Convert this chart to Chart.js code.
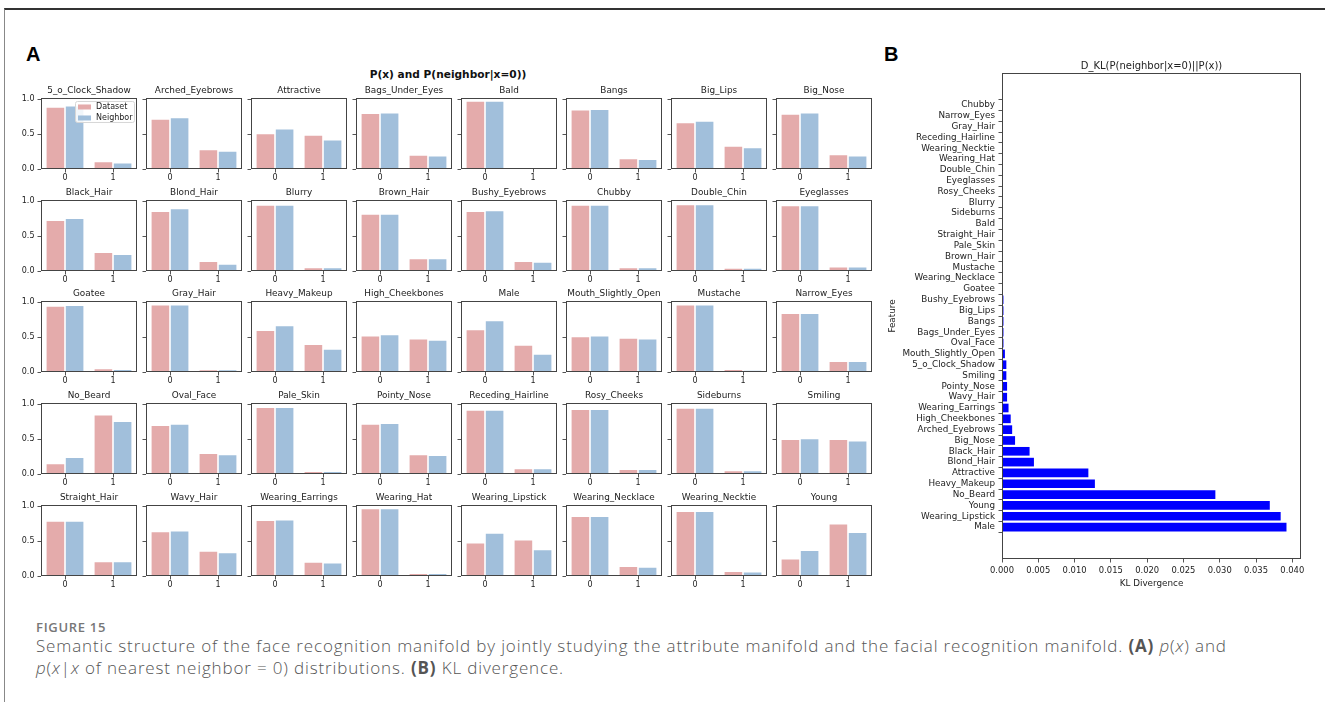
<!DOCTYPE html>
<html>
<head>
<meta charset="utf-8">
<script src="https://cdn.jsdelivr.net/npm/chart.js@4.4.1/dist/chart.umd.min.js"></script>
<style>
  body { margin: 0; width: 1325px; height: 702px; background: #fff; position: relative; overflow: hidden; font-family: "DejaVu Sans", sans-serif; }
  #frame { position: absolute; left: 4px; top: 8px; width: 1330px; height: 700px; border-top: 2px solid #333; border-left: 1.5px solid #888; }
  .cell { position: absolute; }
  .panel { position: absolute; font-family: "Liberation Sans", Arial, sans-serif; font-weight: bold; font-size: 20px; line-height: 20px; color: #000; }
  #titleA { position: absolute; left: 0; width: 896px; top: 68px; text-align: center; font-weight: bold; font-size: 10.6px; color: #111; }
  #figlabel { position: absolute; left: 36px; top: 618px; font-family: "Open Sans", sans-serif; font-weight: 600; font-size: 13px; letter-spacing: 0.7px; color: #777; }
  #caption { position: absolute; left: 36px; top: 635px; font-family: "Open Sans", sans-serif; font-weight: 300; font-size: 17px; letter-spacing: 0.85px; line-height: 22px; color: #555; white-space: nowrap; }
  #caption b { font-weight: 700; }
</style>
</head>
<body>
<div id="frame"></div>
<div class="panel" style="left:26px;top:44px">A</div>
<div class="panel" style="left:884px;top:44px">B</div>
<div id="titleA">P(x) and P(neighbor|x=0))</div>
<div id="figlabel">FIGURE 15</div>
<div id="caption">Semantic structure of the face recognition manifold by jointly studying the attribute manifold and the facial recognition manifold. <b>(A)</b> <i>p</i>(<i>x</i>) and<br><i>p</i>(<i>x</i>|<i>x</i> of nearest neighbor = 0) distributions. <b>(B)</b> KL divergence.</div>
<script>
// panel A: one small chart per attribute, value for x=0 and x=1
var attrNames = ['5_o_Clock_Shadow', 'Arched_Eyebrows', 'Attractive', 'Bags_Under_Eyes', 'Bald', 'Bangs', 'Big_Lips', 'Big_Nose',
  'Black_Hair', 'Blond_Hair', 'Blurry', 'Brown_Hair', 'Bushy_Eyebrows', 'Chubby', 'Double_Chin', 'Eyeglasses',
  'Goatee', 'Gray_Hair', 'Heavy_Makeup', 'High_Cheekbones', 'Male', 'Mouth_Slightly_Open', 'Mustache', 'Narrow_Eyes',
  'No_Beard', 'Oval_Face', 'Pale_Skin', 'Pointy_Nose', 'Receding_Hairline', 'Rosy_Cheeks', 'Sideburns', 'Smiling',
  'Straight_Hair', 'Wavy_Hair', 'Wearing_Earrings', 'Wearing_Hat', 'Wearing_Lipstick', 'Wearing_Necklace', 'Wearing_Necktie', 'Young']
var dataset0 = [0.89, 0.72, 0.51, 0.80, 0.977, 0.85, 0.67, 0.79,
  0.73, 0.86, 0.95, 0.82, 0.86, 0.95, 0.955, 0.94,
  0.95, 0.965, 0.60, 0.52, 0.61, 0.51, 0.965, 0.845,
  0.15, 0.70, 0.96, 0.72, 0.92, 0.93, 0.95, 0.50,
  0.79, 0.64, 0.80, 0.97, 0.48, 0.86, 0.93, 0.25]
var dataset1 = [0.11, 0.28, 0.49, 0.20, 0.023, 0.15, 0.33, 0.21,
  0.27, 0.14, 0.05, 0.18, 0.14, 0.05, 0.045, 0.06,
  0.05, 0.035, 0.40, 0.48, 0.39, 0.49, 0.04, 0.155,
  0.85, 0.30, 0.04, 0.28, 0.08, 0.07, 0.05, 0.50,
  0.21, 0.36, 0.20, 0.04, 0.52, 0.14, 0.07, 0.75]
var neighbor0 = [0.91, 0.74, 0.58, 0.81, 0.978, 0.86, 0.69, 0.81,
  0.76, 0.90, 0.95, 0.82, 0.87, 0.95, 0.955, 0.94,
  0.96, 0.965, 0.67, 0.54, 0.74, 0.52, 0.965, 0.845,
  0.24, 0.72, 0.96, 0.73, 0.92, 0.93, 0.95, 0.51,
  0.79, 0.65, 0.81, 0.97, 0.62, 0.86, 0.93, 0.37]
var neighbor1 = [0.09, 0.26, 0.42, 0.19, 0.022, 0.14, 0.31, 0.19,
  0.24, 0.10, 0.05, 0.18, 0.13, 0.05, 0.045, 0.06,
  0.04, 0.035, 0.33, 0.46, 0.26, 0.48, 0.03, 0.155,
  0.76, 0.28, 0.04, 0.27, 0.08, 0.07, 0.05, 0.48,
  0.21, 0.34, 0.19, 0.04, 0.38, 0.13, 0.06, 0.63]
var xLabels = ['0', '1']
var yTicks = [0, 0.5, 1.0]

// panel B: KL divergence, listed top to bottom
var klFeatures = ['Chubby', 'Narrow_Eyes', 'Gray_Hair', 'Receding_Hairline', 'Wearing_Necktie', 'Wearing_Hat', 'Double_Chin',
  'Eyeglasses', 'Rosy_Cheeks', 'Blurry', 'Sideburns', 'Bald', 'Straight_Hair', 'Pale_Skin', 'Brown_Hair', 'Mustache',
  'Wearing_Necklace', 'Goatee', 'Bushy_Eyebrows', 'Big_Lips', 'Bangs', 'Bags_Under_Eyes', 'Oval_Face', 'Mouth_Slightly_Open',
  '5_o_Clock_Shadow', 'Smiling', 'Pointy_Nose', 'Wavy_Hair', 'Wearing_Earrings', 'High_Cheekbones', 'Arched_Eyebrows',
  'Big_Nose', 'Black_Hair', 'Blond_Hair', 'Attractive', 'Heavy_Makeup', 'No_Beard', 'Young', 'Wearing_Lipstick', 'Male']
var klValues = [0, 0, 0, 0, 0.00001, 0, 0,
  0, 0, 0, 0.00001, 0.00001, 0.00001, 0.00002, 0.00002, 0.00003,
  0.00004, 0.00005, 0.0002, 0.0002, 0.0002, 0.0002, 0.0002, 0.0004,
  0.0006, 0.0006, 0.0007, 0.0007, 0.0009, 0.0012, 0.0014,
  0.0018, 0.0038, 0.0044, 0.0119, 0.0128, 0.0294, 0.0369, 0.0384, 0.0392]
var klTicks = [0, 0.005, 0.010, 0.015, 0.020, 0.025, 0.030, 0.035, 0.040]

var pink = '#e4abab'
var blue = '#a1bfdb'
var textColor = '#222'
var frameColor = '#444'

var framePlugin = {
  id: 'frame',
  afterDraw: function(chart) {
    var a = chart.chartArea
    var ctx = chart.ctx
    ctx.save()
    ctx.strokeStyle = frameColor
    ctx.lineWidth = 1
    ctx.strokeRect(Math.round(a.left) + 0.5, Math.round(a.top) + 0.5, Math.round(a.right - a.left) - 1, Math.round(a.bottom - a.top) - 1)
    ctx.restore()
  }
}

// legend box inside the first subplot only
var legendBoxPlugin = {
  id: 'legendBox',
  afterDatasetsDraw: function(chart) {
    var a = chart.chartArea
    var ctx = chart.ctx
    var w = 59, h = 21
    var x = a.right - 3 - w, y = a.top + 3
    ctx.save()
    ctx.fillStyle = 'rgba(255,255,255,0.85)'
    ctx.strokeStyle = '#d6d6d6'
    ctx.lineWidth = 1
    ctx.beginPath()
    ctx.roundRect(x + 0.5, y + 0.5, w, h, 2)
    ctx.fill()
    ctx.stroke()
    ctx.font = '8px "DejaVu Sans"'
    ctx.textBaseline = 'middle'
    chart.data.datasets.forEach(function(ds, i) {
      var cy = y + 6 + i * 11
      ctx.fillStyle = ds.backgroundColor
      ctx.fillRect(x + 3, cy - 2.5, 13, 5)
      ctx.fillStyle = textColor
      ctx.fillText(ds.label, x + 21, cy)
    })
    ctx.restore()
  }
}

Chart.defaults.font.family = '"DejaVu Sans"'
Chart.defaults.color = textColor

attrNames.forEach(function(name, i) {
  var row = Math.floor(i / 8), col = i % 8
  var plotLeft = 41 + col * 105
  var plotTop = Math.round(100 + row * 101.7)
  var div = document.createElement('div')
  div.className = 'cell'
  div.style.left = (plotLeft - 34) + 'px'
  div.style.top = (plotTop - 19) + 'px'
  var canvas = document.createElement('canvas')
  canvas.width = 134
  canvas.height = 104
  div.appendChild(canvas)
  document.body.appendChild(div)
  var plugins = [framePlugin]
  if (i == 0) plugins.push(legendBoxPlugin)
  new Chart(canvas, {
    type: 'bar',
    data: {
      labels: xLabels,
      datasets: [
        { label: 'Dataset', data: [dataset0[i], dataset1[i]], backgroundColor: pink, borderColor: 'rgba(255,255,255,0.6)', borderWidth: 0.8 },
        { label: 'Neighbor', data: [neighbor0[i], neighbor1[i]], backgroundColor: blue, borderColor: 'rgba(255,255,255,0.6)', borderWidth: 0.8 },
      ],
    },
    options: {
      responsive: false,
      animation: false,
      categoryPercentage: 0.8,
      barPercentage: 1.0,
      layout: { padding: { right: 4 } },
      plugins: {
        legend: { display: false },
        tooltip: { enabled: false },
        title: { display: true, text: name, fullSize: false, color: textColor, font: { size: 8.9, weight: 'normal' }, padding: { top: 4.6, bottom: 1.7 } },
      },
      scales: {
        x: {
          afterFit: function(s) { s.height = 16 },
          border: { display: false },
          grid: { display: true, offset: false, drawOnChartArea: false, drawTicks: true, tickLength: 3.5, color: '#555' },
          ticks: { font: { size: 8 }, padding: 0.5, maxRotation: 0 },
        },
        y: {
          min: 0,
          max: 1.02,
          afterBuildTicks: function(s) { s.ticks = yTicks.map(function(v) { return { value: v } }) },
          afterFit: function(s) { s.width = 34 },
          border: { display: false },
          grid: { display: true, drawOnChartArea: false, drawTicks: true, tickLength: 3.5, color: '#555' },
          ticks: {
            font: { size: 8 },
            padding: 3,
            callback: function(v) { return col == 0 ? v.toFixed(1) : '' },
          },
        },
      },
    },
    plugins: plugins,
  })
})

// panel B
var divB = document.createElement('div')
divB.className = 'cell'
divB.style.left = '880px'
divB.style.top = '56px'
var canvasB = document.createElement('canvas')
canvasB.width = 445
canvasB.height = 544
divB.appendChild(canvasB)
document.body.appendChild(divB)

var n = klFeatures.length
new Chart(canvasB, {
  type: 'bar',
  data: {
    datasets: [
      {
        label: 'KL',
        data: klValues.map(function(v, i) { return { x: v, y: n - 1 - i } }),
        backgroundColor: '#0000ff',
        borderWidth: 0,
        categoryPercentage: 1.0,
        barPercentage: 0.8,
      },
    ],
  },
  options: {
    indexAxis: 'y',
    responsive: false,
    animation: false,
    layout: { padding: { right: 24 } },
    plugins: {
      legend: { display: false },
      tooltip: { enabled: false },
      title: { display: true, text: 'D_KL(P(neighbor|x=0)||P(x))', fullSize: false, color: textColor, font: { size: 10, weight: 'normal' }, padding: { top: 4, bottom: 1 } },
    },
    scales: {
      x: {
        type: 'linear',
        min: 0,
        max: 0.0412,
        afterBuildTicks: function(s) { s.ticks = klTicks.map(function(v) { return { value: v } }) },
        afterFit: function(s) { s.height = 41 },
        border: { display: false },
        grid: { display: true, drawOnChartArea: false, drawTicks: true, tickLength: 3.5, color: '#555' },
        ticks: { font: { size: 8.4 }, padding: 3.5, maxRotation: 0, callback: function(v) { return v.toFixed(3) } },
        title: { display: true, text: 'KL Divergence', color: textColor, font: { size: 8.8 }, padding: { top: 0, bottom: 11.4 } },
      },
      y: {
        type: 'linear',
        min: -2.39,
        max: 41.39,
        afterBuildTicks: function(s) { s.ticks = klFeatures.map(function(f, i) { return { value: i } }) },
        afterFit: function(s) { s.width = 122 },
        border: { display: false },
        grid: { display: true, drawOnChartArea: false, drawTicks: true, tickLength: 3.5, color: '#555' },
        ticks: { font: { size: 8.8 }, padding: 3.5, autoSkip: false, callback: function(v) { return klFeatures[n - 1 - v] } },
        title: { display: true, text: 'Feature', color: textColor, font: { size: 8.8 }, padding: { top: 7.7, bottom: 0 } },
      },
    },
  },
  plugins: [framePlugin],
})
</script>
</body>
</html>
